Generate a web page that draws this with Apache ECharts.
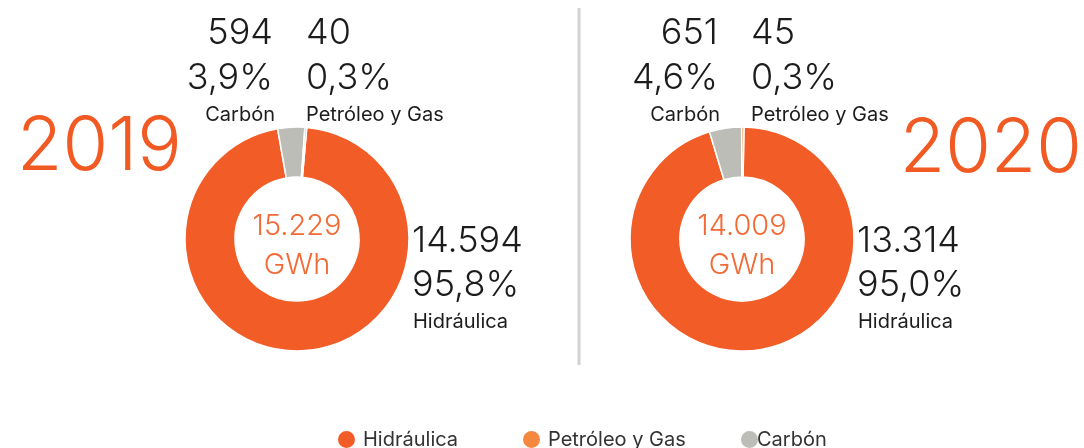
<!DOCTYPE html>
<html>
<head>
<meta charset="utf-8">
<script src="https://cdn.jsdelivr.net/npm/echarts@6/dist/echarts.min.js"></script>
<style>
  html, body { margin: 0; padding: 0; background: #fff; }
  #chart { width: 1084px; height: 448px; }
</style>
</head>
<body>
<div id="chart"></div>
<script>
  // datos de generación por fuente (GWh)
  const years = ['2019', '2020'];
  const categories = ['Hidráulica', 'Carbón', 'Petróleo y Gas'];
  const values2019 = [14594, 594, 40];
  const values2020 = [13314, 651, 45];
  const pct2019 = ['95,8%', '3,9%', '0,3%'];
  const pct2020 = ['95,0%', '4,6%', '0,3%'];
  const totals = [15229, 14009];
  const legendOrder = ['Hidráulica', 'Petróleo y Gas', 'Carbón'];

  const colors = { 'Hidráulica': '#F25C27', 'Carbón': '#BCBDB7', 'Petróleo y Gas': '#F6873F' };
  const FONT = 'Inter, "Noto Sans", sans-serif';
  const ORANGE_TXT = '#F26A35';
  const INK = '#1c1c1c';

  function fmt(n) {
    return String(n).replace(/\B(?=(\d{3})+(?!\d))/g, '.');
  }

  const pies = [
    { cx: 297, cy: 239, start: 85, values: values2019, pct: pct2019, total: totals[0] },
    { cx: 742, cy: 239, start: 89, values: values2020, pct: pct2020, total: totals[1] }
  ];

  function txt(text, x, y, size, opts) {
    opts = opts || {};
    return {
      type: 'text',
      silent: true,
      style: {
        text: text, x: x, y: y,
        fontSize: size, fontFamily: FONT, fontWeight: opts.weight || 300,
        fill: opts.fill || INK,
        textAlign: opts.align || 'left',
        textVerticalAlign: 'middle'
      }
    };
  }

  const graphics = [];
  pies.forEach(function (p) {
    // carbón, arriba a la izquierda
    graphics.push(txt(fmt(p.values[1]), p.cx - 24, 33, 36, { align: 'right' }));
    graphics.push(txt(p.pct[1], p.cx - 24, 78, 36, { align: 'right' }));
    graphics.push(txt(categories[1], p.cx - 22, 115, 20, { align: 'right', weight: 400 }));
    // petróleo y gas, arriba a la derecha
    graphics.push(txt(fmt(p.values[2]), p.cx + 9, 33, 36));
    graphics.push(txt(p.pct[2], p.cx + 9, 78, 36));
    graphics.push(txt(categories[2], p.cx + 9, 115, 20, { weight: 400 }));
    // hidráulica, a la derecha
    graphics.push(txt(fmt(p.values[0]), p.cx + 115, 241, 36));
    graphics.push(txt(p.pct[0], p.cx + 115, 285, 36));
    graphics.push(txt(categories[0], p.cx + 116, 322, 20, { weight: 400 }));
    // total al centro
    graphics.push(txt(fmt(p.total), p.cx, 226, 29, { align: 'center', fill: ORANGE_TXT }));
    graphics.push(txt('GWh', p.cx, 265, 29, { align: 'center', fill: ORANGE_TXT }));
  });
  graphics.push(txt(years[0], 17, 148, 74, { fill: '#F15A22' }));
  graphics.push(txt(years[1], 1082, 150, 74, { align: 'right', fill: '#F15A22' }));
  graphics.push({
    type: 'line', silent: true,
    shape: { x1: 579, y1: 8, x2: 579, y2: 365 },
    style: { stroke: '#d2d2d2', lineWidth: 3 }
  });

  const legendBase = {
    top: 424, icon: 'circle', itemWidth: 19, itemHeight: 19, selectedMode: false,
    textStyle: { fontFamily: FONT, fontSize: 20, color: '#333', padding: [3, 0, 0, 2] }
  };
  const legendLeft = [331, 516, 734];

  const chart = echarts.init(document.getElementById('chart'), null, { renderer: 'canvas' });
  chart.setOption({
    animation: false,
    color: categories.map(function (c) { return colors[c]; }),
    legend: legendOrder.map(function (name, i) {
      const l = Object.assign({}, legendBase, { data: [name], left: legendLeft[i] });
      if (i === 2) l.textStyle = Object.assign({}, legendBase.textStyle, { padding: [3, 0, 0, -7] });
      return l;
    }),
    graphic: graphics,
    series: pies.map(function (p, i) {
      return {
        type: 'pie',
        name: years[i],
        center: [p.cx, p.cy],
        radius: [62, 112],
        startAngle: p.start,
        clockwise: true,
        label: { show: false },
        labelLine: { show: false },
        emphasis: { disabled: true },
        itemStyle: { borderColor: '#fff', borderWidth: 1.5 },
        data: categories.map(function (c, k) {
          return { name: c, value: p.values[k], itemStyle: { color: colors[c] } };
        })
      };
    })
  });
</script>
</body>
</html>
